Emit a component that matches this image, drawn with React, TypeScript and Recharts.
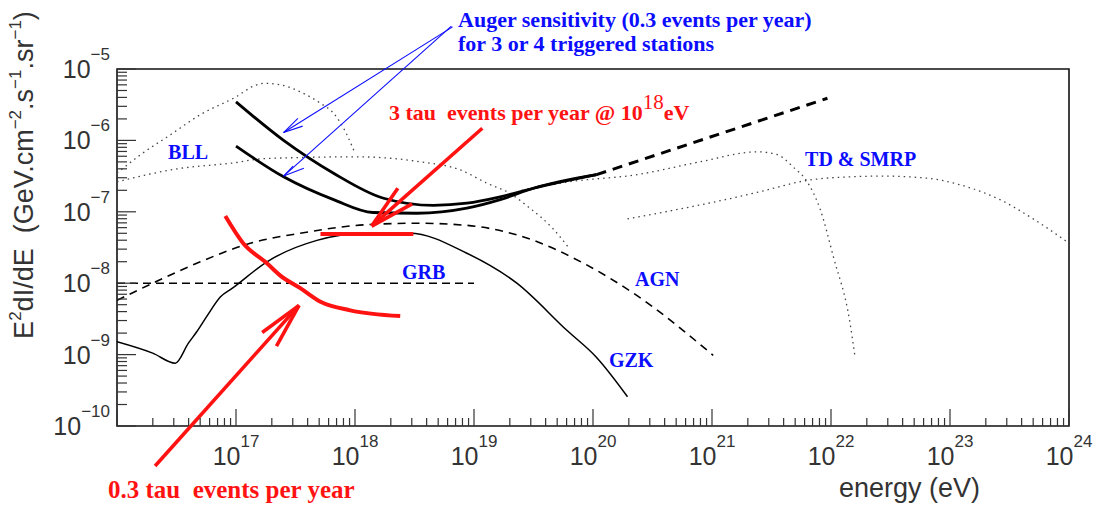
import React from "react";
import {
  ComposedChart,
  Line,
  XAxis,
  YAxis,
  ReferenceArea,
  ReferenceLine,
  ReferenceDot,
} from "recharts";

// every point is [log10(E / eV), log10(E^2 dI/dE / GeV cm^-2 s^-1 sr^-1)]
type P = [number, number];

const xDecades = [16, 17, 18, 19, 20, 21, 22, 23, 24];
const yDecades = [-10, -9, -8, -7, -6, -5];
const subTicks = [1, 2, 3, 4, 5, 6, 7, 8, 9];

const bllUpper: P[] = [
  [16.0, -6.46], [16.19, -6.21], [16.45, -5.92], [16.7, -5.64], [17.0, -5.39],
  [17.16, -5.23], [17.24, -5.2], [17.37, -5.22], [17.54, -5.32], [17.71, -5.48],
  [17.82, -5.62], [17.92, -5.88], [18.0, -6.18],
];
const bllLower: P[] = [
  [16.0, -6.58], [16.5, -6.4], [17.0, -6.31], [17.2, -6.26], [17.54, -6.24],
  [18.0, -6.23], [18.3, -6.25], [18.55, -6.3], [18.88, -6.41], [19.11, -6.6],
  [19.3, -6.74], [19.47, -6.95], [19.66, -7.23], [19.79, -7.49],
];
const tdPeak: P[] = [
  [19.4, -6.7], [19.8, -6.58], [20.37, -6.48], [20.9, -6.3], [21.38, -6.16],
  [21.55, -6.2], [21.68, -6.37], [21.8, -6.58], [21.91, -6.97], [22.02, -7.63],
  [22.16, -8.56], [22.2, -9.01],
];
const tdSmrp: P[] = [
  [20.29, -7.1], [20.7, -6.97], [21.0, -6.87], [21.4, -6.72], [21.8, -6.56],
  [22.16, -6.51], [22.44, -6.5], [22.81, -6.53], [23.08, -6.62], [23.42, -6.83],
  [23.7, -7.1], [24.0, -7.44],
];
const agn: P[] = [
  [16.0, -8.24], [16.3, -8.0], [16.7, -7.7], [17.12, -7.44], [17.54, -7.3],
  [18.1, -7.18], [18.52, -7.16], [18.94, -7.19], [19.5, -7.4], [19.92, -7.72],
  [20.34, -8.14], [21.01, -9.01],
];
const grb: P[] = [[16.0, -8.0], [19.0, -8.0]];
const gzk: P[] = [
  [16.0, -8.82], [16.3, -8.98], [16.49, -9.12], [16.6, -8.84], [16.67, -8.68],
  [16.76, -8.45], [16.87, -8.19], [16.97, -8.07], [17.26, -7.7], [17.68, -7.4],
  [18.1, -7.3], [18.46, -7.3], [18.94, -7.58], [19.36, -8.0], [19.78, -8.66],
  [20.03, -9.04], [20.29, -9.59],
];
const augerUpper: P[] = [
  [17.0, -5.46], [17.4, -6.0], [17.82, -6.46], [18.24, -6.81], [18.66, -6.91],
  [18.94, -6.88], [19.22, -6.79], [19.5, -6.67], [20.03, -6.48],
];
const augerLower: P[] = [
  [17.0, -6.08], [17.4, -6.51], [17.82, -6.83], [18.15, -7.01], [18.52, -7.02],
  [18.94, -6.95], [19.22, -6.83], [19.5, -6.67], [20.03, -6.48],
];
const augerExtrapolated: P[] = [[20.03, -6.48], [21.97, -5.41]];
const tau03: P[] = [
  [16.91, -7.06], [17.06, -7.44], [17.26, -7.72], [17.37, -7.89], [17.54, -8.07],
  [17.71, -8.26], [17.96, -8.38], [18.38, -8.46],
];
const tau3: P[] = [[17.71, -7.31], [18.49, -7.31]];

type Arrow = { tail: P; tip: P; wings: P[] };
const redArrows: Arrow[] = [
  { tail: [19.07, -5.83], tip: [18.14, -7.2], wings: [[18.36, -6.67], [18.48, -6.89]] },
  { tail: [16.32, -10.56], tip: [17.53, -8.31], wings: [[17.22, -8.69], [17.34, -8.88]] },
];
const blueArrows: Arrow[] = [
  { tail: [18.82, -4.41], tip: [17.4, -5.89], wings: [[17.52, -5.69], [17.56, -5.8]] },
  { tail: [18.81, -4.4], tip: [17.4, -6.5], wings: [[17.48, -6.36], [17.57, -6.39]] },
];

type Note = { at: P; text: string; sup?: string; after?: string; color: string; size: number };
const BLUE = "#0c0cff";
const RED = "#ff1212";
const notes: Note[] = [
  { at: [18.866, -4.412], text: "Auger sensitivity (0.3 events per year)", color: BLUE, size: 22 },
  { at: [18.866, -4.748], text: "for 3 or 4 triggered stations", color: BLUE, size: 22 },
  { at: [18.286, -5.714], text: "3 tau  events per year @ 10", sup: "18", after: "eV", color: RED, size: 22 },
  { at: [15.924, -11.008], text: "0.3 tau  events per year", color: RED, size: 25 },
  { at: [16.429, -6.261], text: "BLL", color: BLUE, size: 20 },
  { at: [18.395, -7.941], text: "GRB", color: BLUE, size: 20 },
  { at: [20.353, -8.039], text: "AGN", color: BLUE, size: 20 },
  { at: [20.134, -9.174], text: "GZK", color: BLUE, size: 20 },
  { at: [21.782, -6.359], text: "TD & SMRP", color: BLUE, size: 20 },
];

const at = ([e, f]: P) => ({ x: 10 ** e, y: 10 ** f });
const pts = (a: P[]) => a.map(at);

const xTicks = xDecades.flatMap((d) => subTicks.map((k) => k * 10 ** d)).filter((v) => v <= 1.0001e24);
const yTicks = yDecades.flatMap((d) => subTicks.map((k) => k * 10 ** d)).filter((v) => v <= 1.0001e-5);

const sans = "'Liberation Sans', Arial, sans-serif";
const serif = "'Liberation Serif', 'Times New Roman', serif";
const INK = "#333";

const decade = (v: number) => {
  const l = Math.log10(v);
  return Math.abs(l - Math.round(l)) < 1e-6 ? Math.round(l) : null;
};

function XTick({ x, y, payload }: any) {
  const d = decade(payload.value);
  return (
    <g>
      <line x1={x} x2={x} y1={y} y2={y - (d !== null ? 17 : 8)} stroke="#333" strokeWidth={1.2} />
      {d !== null && d > 16 && (
        <text x={x} y={y + 39} textAnchor="middle" fontFamily={sans} fontSize={25} fill={INK}>
          10<tspan dy={-18} fontSize={17}>{d}</tspan>
        </text>
      )}
    </g>
  );
}

function YTick({ x, y, payload }: any) {
  const d = decade(payload.value);
  return (
    <g>
      <line x1={x} x2={x + (d !== null ? 19 : 10)} y1={y} y2={y} stroke="#333" strokeWidth={1.2} />
      {d !== null && (
        <text x={x - 7} y={y + 9} textAnchor="end" fontFamily={sans} fontSize={25} fill={INK}>
          10<tspan dy={-18} fontSize={17}>{"\u2212" + Math.abs(d)}</tspan>
        </text>
      )}
    </g>
  );
}

function YTitle({ viewBox }: any) {
  const cx = viewBox.x - 24;
  const cy = viewBox.y + 106;
  return (
    <text
      transform={`translate(${cx},${cy}) rotate(-90)`}
      textAnchor="middle"
      fontFamily={sans}
      fontSize={27}
      fill={INK}
      style={{ whiteSpace: "pre" }}
    >
      E<tspan dy={-12} fontSize={17}>2</tspan>
      <tspan dy={12}>dI/dE  (GeV.cm</tspan>
      <tspan dy={-12} fontSize={17}>{"\u22122"}</tspan>
      <tspan dy={12}>.s</tspan>
      <tspan dy={-12} fontSize={17}>{"\u22121"}</tspan>
      <tspan dy={12}>.sr</tspan>
      <tspan dy={-12} fontSize={17}>{"\u22121"}</tspan>
      <tspan dy={12}>)</tspan>
    </text>
  );
}

function XTitle({ viewBox }: any) {
  return (
    <text
      x={viewBox.x + 863}
      y={viewBox.y + 71}
      textAnchor="end"
      fontFamily={sans}
      fontSize={27}
      fill={INK}
    >
      energy (eV)
    </text>
  );
}

function NoteShape({ cx, cy, note }: any) {
  const n = note as Note;
  return (
    <text
      x={cx}
      y={cy}
      fontFamily={serif}
      fontWeight="bold"
      fontSize={n.size}
      fill={n.color}
      style={{ whiteSpace: "pre" }}
    >
      {n.text}
      {n.sup && (
        <tspan dy={-11} fontWeight="normal" fontSize={21}>
          {n.sup}
        </tspan>
      )}
      {n.after && <tspan dy={11}>{n.after}</tspan>}
    </text>
  );
}

const dotted = { stroke: "#444", strokeWidth: 1.3, strokeDasharray: "1.5 4" };

export default function App() {
  const arrows = [
    ...redArrows.map((a) => ({ ...a, color: RED, w: 3.6 })),
    ...blueArrows.map((a) => ({ ...a, color: BLUE, w: 1.1 })),
  ];
  return (
    <div style={{ position: "absolute", left: 0, top: 0, width: 1107, height: 506, background: "#fff" }}>
      <ComposedChart width={1107} height={506} margin={{ top: 69, right: 38, bottom: 50, left: 57 }}>
        <XAxis
          dataKey="x"
          type="number"
          scale="log"
          domain={[1e16, 1e24]}
          allowDataOverflow
          ticks={xTicks}
          interval={0}
          height={30}
          tickSize={0}
          tickMargin={0}
          axisLine={false}
          tickLine={false}
          tick={(p: any) => <XTick {...p} />}
          label={{ content: (p: any) => <XTitle {...p} /> }}
        />
        <YAxis
          type="number"
          scale="log"
          domain={[1e-10, 1e-5]}
          allowDataOverflow
          ticks={yTicks}
          interval={0}
          width={60}
          tickSize={0}
          tickMargin={0}
          axisLine={false}
          tickLine={false}
          tick={(p: any) => <YTick {...p} />}
          label={{ content: (p: any) => <YTitle {...p} /> }}
        />

        <Line data={pts(bllUpper)} dataKey="y" type="monotone" dot={false} activeDot={false} isAnimationActive={false} {...dotted} />
        <Line data={pts(bllLower)} dataKey="y" type="monotone" dot={false} activeDot={false} isAnimationActive={false} {...dotted} />
        <Line data={pts(tdPeak)} dataKey="y" type="monotone" dot={false} activeDot={false} isAnimationActive={false} {...dotted} />
        <Line data={pts(tdSmrp)} dataKey="y" type="monotone" dot={false} activeDot={false} isAnimationActive={false} {...dotted} />
        <Line data={pts(agn)} dataKey="y" type="monotone" dot={false} activeDot={false} isAnimationActive={false} stroke="#000" strokeWidth={1.6} strokeDasharray="8 6" />
        <Line data={pts(grb)} dataKey="y" type="linear" dot={false} activeDot={false} isAnimationActive={false} stroke="#000" strokeWidth={1.6} strokeDasharray="8 5" />
        <Line data={pts(gzk)} dataKey="y" type="monotone" dot={false} activeDot={false} isAnimationActive={false} stroke="#000" strokeWidth={1.5} />
        <Line data={pts(augerUpper)} dataKey="y" type="monotone" dot={false} activeDot={false} isAnimationActive={false} stroke="#000" strokeWidth={2.8} />
        <Line data={pts(augerLower)} dataKey="y" type="monotone" dot={false} activeDot={false} isAnimationActive={false} stroke="#000" strokeWidth={2.8} />
        <Line data={pts(augerExtrapolated)} dataKey="y" type="linear" dot={false} activeDot={false} isAnimationActive={false} stroke="#000" strokeWidth={3} strokeDasharray="10 7" />
        <Line data={pts(tau03)} dataKey="y" type="monotone" dot={false} activeDot={false} isAnimationActive={false} stroke={RED} strokeWidth={4} />
        <Line data={pts(tau3)} dataKey="y" type="linear" dot={false} activeDot={false} isAnimationActive={false} stroke={RED} strokeWidth={4} />

        {arrows.flatMap((a, i) => [
          <ReferenceLine key={`s${i}`} segment={[at(a.tail), at(a.tip)]} stroke={a.color} strokeWidth={a.w} ifOverflow="visible" />,
          ...a.wings.map((w, j) => (
            <ReferenceLine key={`w${i}-${j}`} segment={[at(w), at(a.tip)]} stroke={a.color} strokeWidth={a.w} ifOverflow="visible" />
          )),
        ])}

        {notes.map((n, i) => (
          <ReferenceDot
            key={`n${i}`}
            {...at(n.at)}
            r={1}
            ifOverflow="visible"
            shape={(p: any) => <NoteShape {...p} note={n} />}
          />
        ))}

        <ReferenceArea x1={1e16} x2={1e24} y1={1e-10} y2={1e-5} fill="none" fillOpacity={0} stroke="#111" strokeWidth={1.6} ifOverflow="visible" />
      </ComposedChart>
    </div>
  );
}
